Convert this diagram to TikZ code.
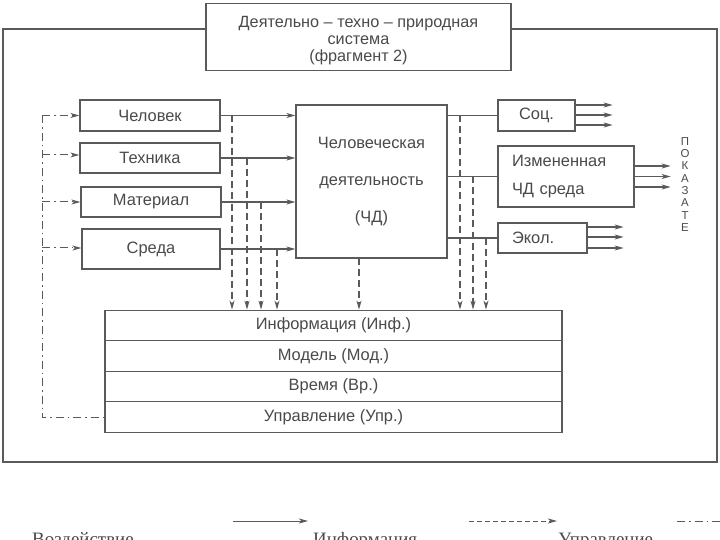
\documentclass[tikz,border=0pt]{standalone}
\usepackage{fontspec}
\setmainfont{Liberation Sans}
\newfontfamily\legfont{Liberation Serif}
\usetikzlibrary{arrows.meta}
\definecolor{ln}{HTML}{5A5A5A}
\definecolor{tx}{HTML}{4A4A4A}
\tikzset{
  box/.style={draw=ln, line width=1.3bp, text=tx, inner sep=0pt, font=\fontsize{16.5}{19}\selectfont},
  arr/.style={-{Stealth[length=9bp,width=5bp,inset=2.5bp]}},
  infl/.style={draw=ln, line width=1.1bp, arr},
  infd/.style={draw=ln, line width=1.1bp, dash pattern=on 7bp off 4bp, arr},
  ctl/.style={draw=ln, line width=1bp, dash pattern=on 8bp off 4bp on 1.5bp off 4bp},
  legtext/.style={anchor=base west, inner sep=0pt, text=tx, font=\legfont\fontsize{19}{22}\selectfont}
}
\begin{document}
\begin{tikzpicture}[x=1bp,y=-1bp]
\useasboundingbox (0,0) rectangle (720,540);
\fill[white] (0,0) rectangle (720,540);

% title and frame
\node[box, minimum width=305bp, minimum height=67bp, align=center, font=\fontsize{16.3}{17}\selectfont] (title) at (358.5,37)
  {\rule{0pt}{18bp}Деятельно – техно – природная\\система\\(фрагмент 2)};
\draw[draw=ln, line width=1.5bp] (title.west |- 0,29) -- (3,29) -- (3,462) -- (717,462) -- (717,29) -- (title.east |- 0,29);

% left boxes
\node[box, minimum width=140bp, minimum height=31bp] (chel) at (150,115.5) {Человек};
\node[box, minimum width=140bp, minimum height=30bp] (tech) at (150,158) {Техника};
\node[box, minimum width=140bp, minimum height=30bp] (mat) at (151,202) {Материал};
\node[box, minimum width=138bp, minimum height=40bp] (sred) at (151,249) {Среда};

% central box
\node[box, minimum width=151bp, minimum height=153bp, align=center, font=\fontsize{16.5}{37.5}\selectfont] (chd) at (371.5,181.5)
  {Человеческая\\деятельность\\(ЧД)};

% right boxes
\node[box, minimum width=77bp, minimum height=31bp] (soc) at (536.5,115.5) {Соц.};
\node[box, minimum width=136bp, minimum height=61bp, align=left, text width=108bp, font=\fontsize{16.5}{29}\selectfont] (izm) at (566,176.5)
  {Измененная\\ЧД среда};
\node[box, minimum width=89bp, minimum height=30bp, align=left, text width=61bp] (ekol) at (542.5,238) {Экол.};

\node[inner sep=0pt, text=tx, align=center, font=\fontsize{11.5}{12.4}\selectfont] (pok) at (685,184.5)
  {П\\О\\К\\А\\З\\А\\Т\\Е};

% information stack
\node[box, minimum width=457bp, minimum height=30.5bp] (inf) at (333.5,325.5) {Информация (Инф.)};
\node[box, minimum width=457bp, minimum height=30.5bp] (mod) at (333.5,356) {Модель (Мод.)};
\node[box, minimum width=457bp, minimum height=30.5bp] (vr) at (333.5,386.5) {Время (Вр.)};
\node[box, minimum width=457bp, minimum height=30.5bp] (upr) at (333.5,417) {Управление (Упр.)};

% influences into ChD
\draw[infl] (chel.east) -- (chel.east -| chd.west);
\draw[infl] (tech.east) -- (tech.east -| chd.west);
\draw[infl] (mat.east) -- (mat.east -| chd.west);
\draw[infl] (sred.east) -- (sred.east -| chd.west);

% ChD to outputs
\draw[draw=ln, line width=1.1bp] (chd.east |- soc.west) -- (soc.west);
\draw[draw=ln, line width=1.1bp] (chd.east |- izm.west) -- (izm.west);
\draw[draw=ln, line width=1.1bp] (chd.east |- ekol.west) -- (ekol.west);

% output arrows
\foreach \yy in {105,115,125} \draw[infl] (soc.east |- 0,\yy) -- ++(37,0);
\foreach \yy in {166,176.5,187} \draw[infl] (izm.east |- 0,\yy) -- ++(36,0);
\foreach \yy in {227,237,248} \draw[infl] (ekol.east |- 0,\yy) -- ++(36,0);

% information (dashed) drops
\coordinate (d1) at (232,115.5);
\coordinate (d2) at (247,158);
\coordinate (d3) at (261,202);
\coordinate (d4) at (277,249);
\coordinate (d5) at (359,258);
\coordinate (r1) at (460,115.5);
\coordinate (r2) at (473,176.5);
\coordinate (r3) at (486,238);
\foreach \c in {d1,d2,d3,d4,d5,r1,r2,r3} \draw[infd] (\c) -- (\c |- inf.north);

% control (dash-dot)
\coordinate (c0) at (42,115.5);
\coordinate (c4) at (42,417);
\draw[ctl] (c0) -- (c4) -- (upr.west);
\draw[ctl, arr] (c0) -- (chel.west);
\draw[ctl, arr] (42,155) -- (tech.west |- 0,155);
\draw[ctl, arr] (42,202) -- (mat.west);
\draw[ctl, arr] (42,248) -- (sred.west |- 0,248);

% legend
\node[legtext] (lg1) at (32,545) {Воздействие};
\node[legtext] (lg2) at (313,545) {Информация};
\node[legtext] (lg3) at (558,545) {Управление};
\coordinate (la1) at (233,521); \coordinate (la2) at (308,521);
\coordinate (lb1) at (469,521); \coordinate (lb2) at (557,521);
\coordinate (lc1) at (677,521); \coordinate (lc2) at (730,521);
\draw[draw=ln, line width=1bp, arr] (la1) -- (la2);
\draw[draw=ln, line width=1bp, dash pattern=on 5bp off 3bp, arr] (lb1) -- (lb2);
\draw[draw=ln, line width=1bp, dash pattern=on 8bp off 4bp on 1.5bp off 4bp] (lc1) -- (lc2);
\end{tikzpicture}
\end{document}
